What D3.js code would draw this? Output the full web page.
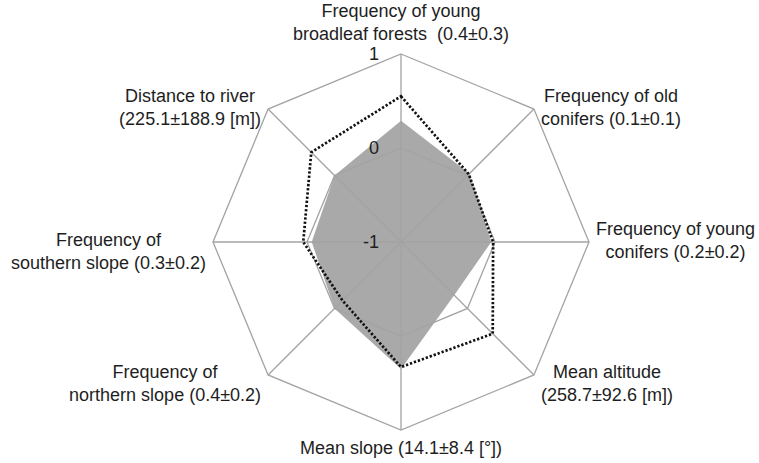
<!DOCTYPE html>
<html>
<head>
<meta charset="utf-8">
<script src="https://cdn.jsdelivr.net/npm/d3@7"></script>
<style>
  body { margin: 0; background: #fff; }
  svg { display: block; }
  text { font-family: "Liberation Sans", Arial, sans-serif; fill: #1e1e1e; }
</style>
</head>
<body>
<div id="chart"></div>
<script>
// axes clockwise from the top
const axisLabels = [
  ['Frequency of young', 'broadleaf forests  (0.4\u00b10.3)'],
  ['Frequency of old', 'conifers (0.1\u00b10.1)'],
  ['Frequency of young', 'conifers (0.2\u00b10.2)'],
  ['Mean altitude', '(258.7\u00b192.6 [m])'],
  ['Mean slope (14.1\u00b18.4 [\u00b0])'],
  ['Frequency of', 'northern slope (0.4\u00b10.2)'],
  ['Frequency of', 'southern slope (0.3\u00b10.2)'],
  ['Distance to river', '(225.1\u00b1188.9 [m])']
]
// grey filled polygon
const areaValues = [0.29, 0.03, -0.04, -0.2, 0.35, 0.0, -0.05, 0.0]
// dotted polygon
const dottedValues = [0.55, 0.02, -0.02, 0.38, 0.33, -0.12, 0.04, 0.35]
const tickValues = [-1, 0, 1]

const width = 759, height = 463
const cx = 401, cy = 242, R = 188
const n = axisLabels.length
const fontSize = '18px'

const svg = d3.select('#chart').append('svg')
    .attr('width', width)
    .attr('height', height)

const g = svg.append('g').attr('transform', `translate(${cx},${cy})`)

const radius = d3.scaleLinear().domain([-1, 1]).range([0, R])
const angle = i => i * 2 * Math.PI / n
const point = (i, v) => [Math.sin(angle(i)) * radius(v), -Math.cos(angle(i)) * radius(v)]

const radial = d3.lineRadial()
    .angle((d, i) => angle(i))
    .radius(d => radius(d))
    .curve(d3.curveLinearClosed)

// grey area
g.append('path')
  .attr('d', radial(areaValues))
  .attr('fill', '#a9a9a9')
  .attr('stroke', 'none')

// grid rings (level -1 is the centre)
tickValues.filter(t => radius(t) > 0).forEach(t => {
  g.append('path')
    .attr('d', radial(d3.range(n).map(() => t)))
    .attr('fill', 'none')
    .attr('stroke', '#a3a3a3')
    .attr('stroke-width', 1.3)
})

// spokes
g.selectAll('line.spoke')
  .data(d3.range(n))
  .enter().append('line')
    .attr('class', 'spoke')
    .attr('x1', 0).attr('y1', 0)
    .attr('x2', i => point(i, 1)[0])
    .attr('y2', i => point(i, 1)[1])
    .attr('stroke', '#a3a3a3')
    .attr('stroke-width', 1.3)

// dotted polygon
g.append('path')
  .attr('d', radial(dottedValues))
  .attr('fill', 'none')
  .attr('stroke', '#111')
  .attr('stroke-width', 2.7)
  .attr('stroke-dasharray', '2.3 1.9')

// tick labels, left of the top spoke
g.selectAll('text.tick')
  .data(tickValues)
  .enter().append('text')
    .attr('class', 'tick')
    .attr('x', -22)
    .attr('y', d => -radius(d))
    .attr('dy', '0.35em')
    .attr('text-anchor', 'end')
    .style('font-size', fontSize)
    .text(d => d)

// axis labels
const lineH = 23
axisLabels.forEach((lines, i) => {
  const [vx, vy] = point(i, 1)
  const s = Math.sin(angle(i)), c = Math.cos(angle(i))
  const lab = g.append('text')
      .attr('text-anchor', 'middle')
      .style('font-size', fontSize)
      .style('white-space', 'pre')
  lines.forEach((t, k) => {
    lab.append('tspan').attr('x', 0).attr('y', k * lineH).text(t)
  })
  const bb = lab.node().getBBox()
  let x, y
  if (s > 0.01) x = vx + 7 + bb.width / 2
  else if (s < -0.01) x = vx - 7 - bb.width / 2
  else x = vx
  const h = (lines.length - 1) * lineH
  if (c > 0.99) y = vy - 14 - h
  else if (c < -0.99) y = vy + 24
  else y = vy + 6 - h / 2 + (c < 0 ? 9 : -2)
  lab.attr('transform', `translate(${x},${y})`)
})
</script>
</body>
</html>
